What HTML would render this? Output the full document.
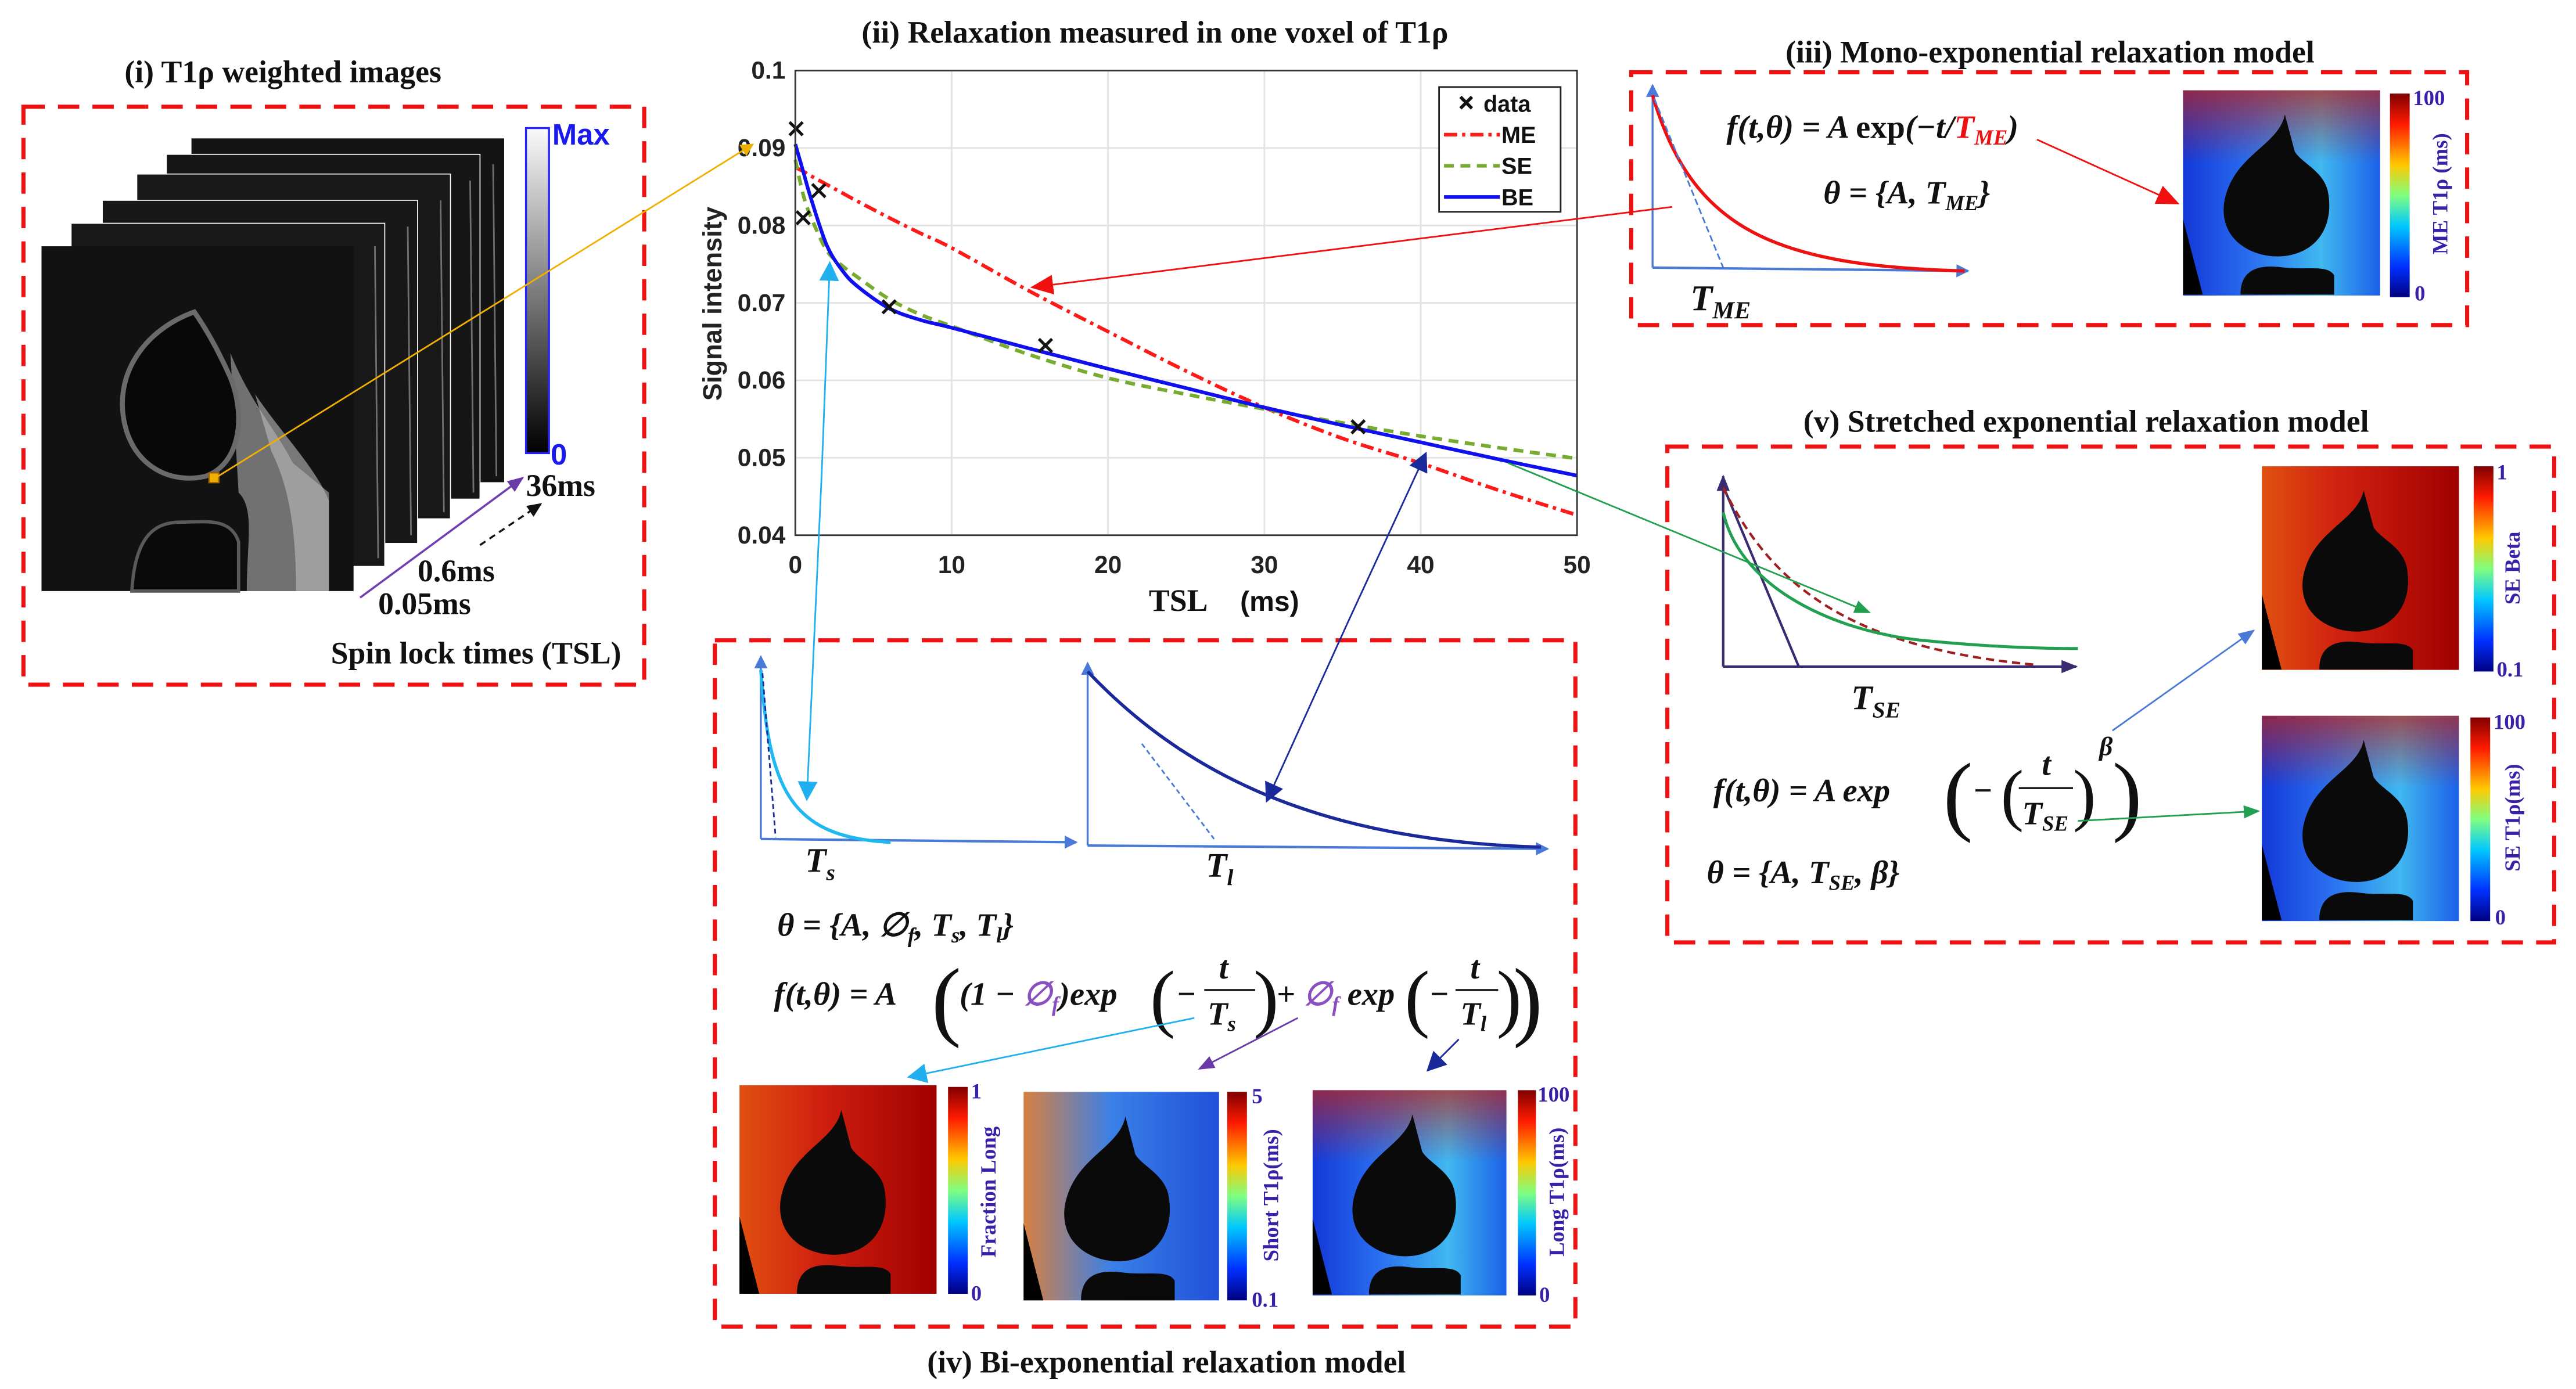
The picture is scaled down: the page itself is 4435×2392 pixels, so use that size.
<!DOCTYPE html>
<html><head><meta charset="utf-8"><style>
html,body{margin:0;padding:0;background:#fff;}
svg{display:block;}
.ttl{font-family:"Liberation Serif",serif;font-weight:bold;font-size:19px;fill:#111;}
.tk{font-family:"Liberation Sans",sans-serif;font-size:15px;font-weight:bold;fill:#222;}
.mth{font-family:"Liberation Serif",serif;font-weight:bold;font-style:italic;fill:#111;}
.cbl{font-family:"Liberation Serif",serif;font-weight:bold;font-size:13px;fill:#3a1fa8;}
</style></head><body>
<svg id="fig" width="4435" height="2392" viewBox="0 0 1568 846" xmlns="http://www.w3.org/2000/svg">
<defs>
<linearGradient id="jet" x1="0" y1="0" x2="0" y2="1">
<stop offset="0" stop-color="#800000"/><stop offset="0.15" stop-color="#ff1a00"/><stop offset="0.35" stop-color="#ffc800"/><stop offset="0.5" stop-color="#80ff80"/><stop offset="0.65" stop-color="#00c8ff"/><stop offset="0.85" stop-color="#0030ff"/><stop offset="1" stop-color="#000080"/></linearGradient>
<linearGradient id="gray" x1="0" y1="0" x2="0" y2="1"><stop offset="0" stop-color="#fafafa"/><stop offset="1" stop-color="#000"/></linearGradient>
<linearGradient id="bluemap" x1="0" y1="0" x2="1" y2="0"><stop offset="0" stop-color="#1438d8"/><stop offset="0.35" stop-color="#2a70f0"/><stop offset="0.7" stop-color="#40b8f0"/><stop offset="1" stop-color="#1c60e8"/></linearGradient>
<linearGradient id="redmap" x1="0" y1="0" x2="1" y2="0"><stop offset="0" stop-color="#e05010"/><stop offset="0.4" stop-color="#d02010"/><stop offset="1" stop-color="#a00000"/></linearGradient>
<linearGradient id="mixmap" x1="0" y1="0" x2="1" y2="0"><stop offset="0" stop-color="#d88040"/><stop offset="0.45" stop-color="#3a80e8"/><stop offset="1" stop-color="#2050d8"/></linearGradient>
<linearGradient id="topred" x1="0" y1="0" x2="0" y2="1"><stop offset="0" stop-color="#c02010" stop-opacity="0.7"/><stop offset="0.35" stop-color="#c02010" stop-opacity="0"/></linearGradient>
<g id="bones">
<path d="M62,15 C58,35 30,40 25,70 C22,95 45,105 62,103 C85,100 92,80 88,62 C85,50 72,45 68,38 Z" fill="#0a0a0a"/>
<path d="M35,127 C35,112 45,108 60,110 C75,112 88,108 92,115 L92,127 Z" fill="#0a0a0a"/>
<path d="M0,80 L12,127 L0,127 Z" fill="#000"/>
</g>
<marker id="mY" markerWidth="8" markerHeight="8" refX="7" refY="4" orient="auto" markerUnits="userSpaceOnUse"><path d="M0,0 L8,4 L0,8 Z" fill="#f0b000"/></marker>
<marker id="mR" markerWidth="14" markerHeight="12" refX="13" refY="6" orient="auto" markerUnits="userSpaceOnUse"><path d="M0,0 L14,6 L0,12 Z" fill="#f01010"/></marker>
<marker id="mC" markerWidth="12" markerHeight="12" refX="11" refY="6" orient="auto" markerUnits="userSpaceOnUse"><path d="M0,0 L12,6 L0,12 Z" fill="#20b0f0"/></marker>
<marker id="mN" markerWidth="12" markerHeight="12" refX="11" refY="6" orient="auto" markerUnits="userSpaceOnUse"><path d="M0,0 L12,6 L0,12 Z" fill="#1a2a9a"/></marker>
<marker id="mG" markerWidth="10" markerHeight="8" refX="9" refY="4" orient="auto" markerUnits="userSpaceOnUse"><path d="M0,0 L10,4 L0,8 Z" fill="#20a050"/></marker>
<marker id="mB" markerWidth="10" markerHeight="8" refX="9" refY="4" orient="auto" markerUnits="userSpaceOnUse"><path d="M0,0 L10,4 L0,8 Z" fill="#4a7ad8"/></marker>
<marker id="mP" markerWidth="10" markerHeight="8" refX="9" refY="4" orient="auto" markerUnits="userSpaceOnUse"><path d="M0,0 L10,4 L0,8 Z" fill="#6a3aa8"/></marker>
<marker id="mK" markerWidth="9" markerHeight="8" refX="8" refY="4" orient="auto" markerUnits="userSpaceOnUse"><path d="M0,0 L9,4 L0,8 Z" fill="#111"/></marker>
<marker id="mA" markerWidth="8" markerHeight="8" refX="7" refY="4" orient="auto" markerUnits="userSpaceOnUse"><path d="M0,0 L8,4 L0,8 Z" fill="#4a7ad8"/></marker>
<marker id="mV" markerWidth="10" markerHeight="8" refX="9" refY="4" orient="auto" markerUnits="userSpaceOnUse"><path d="M0,0 L10,4 L0,8 Z" fill="#3a2a70"/></marker>
</defs>

<!-- Panel i -->
<g>
<text class="ttl" x="172" y="50" text-anchor="middle">(i) T1ρ weighted images</text>
<rect x="14" y="65" width="378" height="352" fill="none" stroke="#ee1111" stroke-width="2.5" stroke-dasharray="13,8"/>
<g stroke="#fff" stroke-width="0.6">
<rect x="116" y="84" width="191" height="210" fill="#141414"/>
<rect x="101" y="94" width="191" height="210" fill="#161616"/>
<rect x="83" y="106" width="191" height="210" fill="#181818"/>
<rect x="62" y="122" width="192" height="209" fill="#171717"/>
<rect x="43" y="136" width="191" height="209" fill="#181818"/>
<g stroke="#aaa" stroke-width="1" opacity="0.6"><line x1="300" y1="100" x2="302" y2="290"/><line x1="286" y1="110" x2="288" y2="300"/><line x1="268" y1="122" x2="270" y2="312"/><line x1="248" y1="138" x2="250" y2="326"/><line x1="228" y1="150" x2="230" y2="340"/></g>
</g>
<g>
<rect x="25" y="150" width="190" height="210" fill="#121212"/>
<path d="M140,215 C152,245 168,262 178,282 L200,300 L200,360 L150,360 C150,330 155,310 145,300 Z" fill="#8a8a8a" opacity="0.8"/>
<path d="M155,240 C172,265 192,285 200,305 L200,360 L180,360 C180,320 175,295 165,275 Z" fill="#bdbdbd" opacity="0.6"/>
<path d="M118,190 C90,200 70,225 75,255 C80,285 105,295 125,290 C145,283 150,255 140,230 C132,212 125,200 118,190 Z" fill="#080808" stroke="#6a6a6a" stroke-width="3"/>
<path d="M80,360 C82,325 95,318 110,318 C125,318 140,315 145,330 L145,360 Z" fill="#0a0a0a" stroke="#5a5a5a" stroke-width="2"/>
<rect x="127" y="288" width="6" height="6" fill="#f0b000" stroke="#a06000" stroke-width="0.8"/>
</g>
<rect x="320" y="78" width="14" height="198" fill="url(#gray)" stroke="#2222ff" stroke-width="1.2"/>
<text x="336" y="88" font-family="Liberation Sans,sans-serif" font-weight="bold" font-size="18" fill="#1a1aee">Max</text>
<text x="335" y="283" font-family="Liberation Sans,sans-serif" font-weight="bold" font-size="18" fill="#1a1aee">0</text>
<text class="ttl" x="320" y="302" font-size="17">36ms</text>
<text class="ttl" x="254" y="354" font-size="17">0.6ms</text>
<text class="ttl" x="230" y="374" font-size="17">0.05ms</text>
<text class="ttl" x="378" y="404" font-size="17" text-anchor="end">Spin lock times (TSL)</text>
<line x1="219" y1="364" x2="318" y2="291" stroke="#7040b0" stroke-width="1.3" marker-end="url(#mP)"/>
<line x1="292" y1="332" x2="329" y2="307" stroke="#111" stroke-width="1.2" stroke-dasharray="4,3" marker-end="url(#mK)"/>
</g>

<!-- Panel ii chart -->
<g id="chart">
<text class="ttl" x="703" y="26" text-anchor="middle">(ii) Relaxation measured in one voxel of T1ρ</text>
<rect x="484" y="43" width="476" height="283" fill="#fff"/>
<g id="grid"></g>
<g id="ticks"></g>
<g id="series"></g>
<rect x="484" y="43" width="476" height="283" fill="none" stroke="#333" stroke-width="1"/>
<text x="439" y="185" transform="rotate(-90 439 185)" text-anchor="middle" font-family="Liberation Sans,sans-serif" font-weight="bold" font-size="16" fill="#222">Signal intensity</text>
<text x="745" y="372" text-anchor="middle" font-family="Liberation Serif,serif" font-weight="bold" font-size="19" fill="#111">TSL <tspan font-family="Liberation Sans,sans-serif" font-weight="bold" font-size="17" dx="16">(ms)</tspan></text>
<g>
<rect x="876" y="53" width="74" height="76" fill="#fff" stroke="#222" stroke-width="1"/>
<g id="legendItems"></g>
</g>
</g>

<!-- Panel iii -->
<g>
<text class="ttl" x="1248" y="38" text-anchor="middle">(iii) Mono-exponential relaxation model</text>
<rect x="993" y="44" width="509" height="154" fill="none" stroke="#ee1111" stroke-width="2.5" stroke-dasharray="13,8"/>
<line x1="1006" y1="163" x2="1006" y2="52" stroke="#4a7ad8" stroke-width="1.2" marker-end="url(#mA)"/>
<line x1="1006" y1="163" x2="1198" y2="165" stroke="#4a7ad8" stroke-width="1.5" marker-end="url(#mA)"/>
<path d="M1006,58 C1030,140 1080,162 1196,165" fill="none" stroke="#ee1111" stroke-width="2"/>
<line x1="1007" y1="60" x2="1049" y2="163" stroke="#4a7ad8" stroke-width="1" stroke-dasharray="4,2"/>
<text class="mth" x="1051" y="84" font-size="20">f(t,θ) = A <tspan font-style="normal">exp</tspan>(−t/<tspan fill="#ee1111">T<tspan font-size="13" dy="4">ME</tspan></tspan><tspan dy="-4">)</tspan></text>
<text class="mth" x="1110" y="124" font-size="20">θ = {A, T<tspan font-size="13" dy="4">ME</tspan><tspan dy="-4">}</tspan></text>
<text class="mth" x="1029" y="189" font-size="22" fill="#ee1111">T<tspan font-size="15" dy="5">ME</tspan></text>
<g>
<rect x="1329" y="55" width="120" height="125" fill="url(#bluemap)"/>
<rect x="1329" y="55" width="120" height="125" fill="url(#topred)"/>
<use href="#bones" transform="translate(1329,55) scale(1,0.98)"/>
</g>
<rect x="1455" y="57" width="12" height="124" fill="url(#jet)"/>
<text class="cbl" x="1469" y="64" font-size="14">100</text><text class="cbl" x="1470" y="183" font-size="14">0</text>
<text class="cbl" x="1490" y="118" transform="rotate(-90 1490 118)" text-anchor="middle">ME T1ρ (ms)</text>
</g>

<!-- Panel v -->
<g>
<text class="ttl" x="1270" y="263" text-anchor="middle">(v) Stretched exponential relaxation model</text>
<rect x="1015" y="272" width="540" height="302" fill="none" stroke="#ee1111" stroke-width="2.5" stroke-dasharray="13,8"/>
<line x1="1049" y1="406" x2="1049" y2="290" stroke="#3a2a70" stroke-width="1.5" marker-end="url(#mV)"/>
<line x1="1049" y1="406" x2="1264" y2="406" stroke="#3a2a70" stroke-width="1.5" marker-end="url(#mV)"/>
<line x1="1049" y1="296" x2="1095" y2="406" stroke="#3a2a70" stroke-width="1.5"/>
<path d="M1049,297 C1080,360 1130,395 1240,405" fill="none" stroke="#a02020" stroke-width="1.5" stroke-dasharray="5,3"/>
<path d="M1049,312 C1060,360 1120,385 1170,390 C1210,394 1240,395 1265,395" fill="none" stroke="#20a050" stroke-width="1.8"/>
<text class="mth" x="1127" y="432" font-size="21" fill="#20a050">T<tspan font-size="14" dy="5">SE</tspan></text>
<text class="mth" x="1043" y="488" font-size="20">f(t,θ) = A exp</text>
<text x="1183" y="502" font-family="Liberation Serif,serif" font-size="54" fill="#111">(</text>
<text class="mth" x="1201" y="488" font-size="20">−</text>
<text x="1218" y="498" font-family="Liberation Serif,serif" font-size="42" fill="#111">(</text>
<text class="mth" x="1243" y="472" font-size="20">t</text>
<line x1="1229" y1="480" x2="1262" y2="480" stroke="#111" stroke-width="1.2"/>
<text class="mth" x="1231" y="502" font-size="20" fill="#20a050">T<tspan font-size="13" dy="4">SE</tspan></text>
<text x="1262" y="498" font-family="Liberation Serif,serif" font-size="42" fill="#111">)</text>
<text class="mth" x="1278" y="460" font-size="16" fill="#1a3ae0">β</text>
<text x="1286" y="502" font-family="Liberation Serif,serif" font-size="54" fill="#111">)</text>
<text class="mth" x="1039" y="538" font-size="20">θ = {A, T<tspan font-size="13" dy="4">SE</tspan><tspan dy="-4">, β}</tspan></text>
<g>
<rect x="1377" y="284" width="120" height="124" fill="url(#redmap)"/>
<use href="#bones" transform="translate(1377,284) scale(1,0.975)"/>
</g>
<rect x="1506" y="284" width="12" height="125" fill="url(#jet)"/>
<text class="cbl" x="1520" y="292" font-size="14">1</text><text class="cbl" x="1520" y="412" font-size="14">0.1</text>
<text class="cbl" x="1534" y="346" transform="rotate(-90 1534 346)" text-anchor="middle">SE Beta</text>
<g>
<rect x="1377" y="436" width="120" height="125" fill="url(#bluemap)"/>
<rect x="1377" y="436" width="120" height="125" fill="url(#topred)"/>
<use href="#bones" transform="translate(1377,436) scale(1,0.98)"/>
</g>
<rect x="1504" y="437" width="12" height="124" fill="url(#jet)"/>
<text class="cbl" x="1518" y="444" font-size="14">100</text><text class="cbl" x="1519" y="563" font-size="14">0</text>
<text class="cbl" x="1534" y="498" transform="rotate(-90 1534 498)" text-anchor="middle">SE T1ρ(ms)</text>
</g>

<!-- Panel iv -->
<g>
<rect x="435" y="390" width="524" height="418" fill="none" stroke="#ee1111" stroke-width="2.5" stroke-dasharray="13,8"/>
<text class="ttl" x="710" y="836" text-anchor="middle">(iv) Bi-exponential relaxation model</text>
<line x1="463" y1="511" x2="463" y2="400" stroke="#4a7ad8" stroke-width="1.2" marker-end="url(#mA)"/>
<line x1="463" y1="511" x2="655" y2="513" stroke="#4a7ad8" stroke-width="1.5" marker-end="url(#mA)"/>
<path d="M463,408 C468,480 480,510 542,513" fill="none" stroke="#20b8f0" stroke-width="2"/>
<line x1="464" y1="410" x2="472" y2="510" stroke="#1a2a9a" stroke-width="1" stroke-dasharray="3,2"/>
<text class="mth" x="490" y="531" font-size="21" fill="#20b0f0">T<tspan font-size="14" dy="5">s</tspan></text>
<line x1="662" y1="515" x2="662" y2="404" stroke="#4a7ad8" stroke-width="1.2" marker-end="url(#mA)"/>
<line x1="662" y1="515" x2="942" y2="517" stroke="#4a7ad8" stroke-width="1.5" marker-end="url(#mA)"/>
<path d="M662,409 C720,470 800,512 938,516" fill="none" stroke="#1a2a9a" stroke-width="2"/>
<line x1="695" y1="453" x2="739" y2="511" stroke="#4a7ad8" stroke-width="1" stroke-dasharray="3,2"/>
<text class="mth" x="734" y="534" font-size="21" fill="#1a2a9a">T<tspan font-size="14" dy="5">l</tspan></text>
<text class="mth" x="473" y="570" font-size="20">θ = {A, ∅<tspan font-size="13" dy="4">f</tspan><tspan dy="-4">, T</tspan><tspan font-size="13" dy="4">s</tspan><tspan dy="-4">, T</tspan><tspan font-size="13" dy="4">l</tspan><tspan dy="-4">}</tspan></text>
<text class="mth" x="471" y="612" font-size="20">f(t,θ) = A</text>
<text x="567" y="627" font-family="Liberation Serif,serif" font-size="54" fill="#111">(</text>
<text class="mth" x="584" y="612" font-size="20">(1 − <tspan fill="#8a50c0">∅<tspan font-size="13" dy="4">f</tspan></tspan><tspan dy="-4">)exp</tspan></text>
<text x="700" y="623" font-family="Liberation Serif,serif" font-size="46" fill="#111">(</text>
<text class="mth" x="716" y="612" font-size="20">−</text>
<text class="mth" x="742" y="596" font-size="20">t</text>
<line x1="733" y1="603" x2="764" y2="603" stroke="#111" stroke-width="1.2"/>
<text class="mth" x="735" y="624" font-size="20" fill="#20b0f0">T<tspan font-size="13" dy="4">s</tspan></text>
<text x="763" y="623" font-family="Liberation Serif,serif" font-size="46" fill="#111">)</text>
<text class="mth" x="777" y="612" font-size="20">+ <tspan fill="#8a50c0">∅<tspan font-size="13" dy="4">f</tspan></tspan><tspan dy="-4"> exp</tspan></text>
<text x="855" y="623" font-family="Liberation Serif,serif" font-size="46" fill="#111">(</text>
<text class="mth" x="870" y="612" font-size="20">−</text>
<text class="mth" x="895" y="596" font-size="20">t</text>
<line x1="886" y1="603" x2="912" y2="603" stroke="#111" stroke-width="1.2"/>
<text class="mth" x="889" y="624" font-size="20" fill="#1a2a9a">T<tspan font-size="13" dy="4">l</tspan></text>
<text x="911" y="623" font-family="Liberation Serif,serif" font-size="46" fill="#111">)</text>
<text x="921" y="627" font-family="Liberation Serif,serif" font-size="54" fill="#111">)</text>
<g>
<rect x="450" y="661" width="120" height="127" fill="url(#redmap)"/>
<use href="#bones" transform="translate(450,661)"/>
</g>
<rect x="577" y="662" width="12" height="126" fill="url(#jet)"/>
<text class="cbl" x="591" y="669" font-size="14">1</text><text class="cbl" x="591" y="792" font-size="14">0</text>
<text class="cbl" x="606" y="726" transform="rotate(-90 606 726)" text-anchor="middle">Fraction Long</text>
<g>
<rect x="623" y="665" width="119" height="127" fill="url(#mixmap)"/>
<use href="#bones" transform="translate(623,665)"/>
</g>
<rect x="747" y="665" width="12" height="127" fill="url(#jet)"/>
<text class="cbl" x="762" y="672" font-size="14">5</text><text class="cbl" x="762" y="796" font-size="14">0.1</text>
<text class="cbl" x="778" y="728" transform="rotate(-90 778 728)" text-anchor="middle">Short T1ρ(ms)</text>
<g>
<rect x="799" y="664" width="118" height="125" fill="url(#bluemap)"/>
<rect x="799" y="664" width="118" height="125" fill="url(#topred)"/>
<use href="#bones" transform="translate(799,664) scale(0.98,0.98)"/>
</g>
<rect x="924" y="664" width="11" height="125" fill="url(#jet)"/>
<text class="cbl" x="936" y="671" font-size="14">100</text><text class="cbl" x="937" y="793" font-size="14">0</text>
<text class="cbl" x="952" y="726" transform="rotate(-90 952 726)" text-anchor="middle">Long T1ρ(ms)</text>
</g>

<!-- connecting arrows -->
<g fill="none">
<line x1="131" y1="291" x2="458" y2="88" stroke="#f0b000" stroke-width="1" marker-end="url(#mY)"/>
<line x1="1018" y1="126" x2="628" y2="175" stroke="#f01010" stroke-width="1" marker-end="url(#mR)"/>
<line x1="1240" y1="85" x2="1326" y2="124" stroke="#f01010" stroke-width="1" marker-end="url(#mR)"/>
<line x1="500" y1="290" x2="505" y2="160" stroke="#20b0f0" stroke-width="1" marker-end="url(#mC)"/>
<line x1="500" y1="290" x2="491" y2="487" stroke="#20b0f0" stroke-width="1" marker-end="url(#mC)"/>
<line x1="820" y1="380" x2="868" y2="276" stroke="#1a2a9a" stroke-width="1" marker-end="url(#mN)"/>
<line x1="820" y1="380" x2="771" y2="488" stroke="#1a2a9a" stroke-width="1" marker-end="url(#mN)"/>
<line x1="918" y1="282" x2="1138" y2="373" stroke="#20a050" stroke-width="1" marker-end="url(#mG)"/>
<line x1="1286" y1="445" x2="1372" y2="384" stroke="#4a7ad8" stroke-width="1" marker-end="url(#mB)"/>
<line x1="1265" y1="500" x2="1375" y2="494" stroke="#20a050" stroke-width="1" marker-end="url(#mG)"/>
<line x1="727" y1="620" x2="553" y2="656" stroke="#20b0f0" stroke-width="1" marker-end="url(#mC)"/>
<line x1="790" y1="620" x2="730" y2="651" stroke="#6a3aa8" stroke-width="1" marker-end="url(#mP)"/>
<line x1="888" y1="633" x2="869" y2="652" stroke="#1a2a9a" stroke-width="1" marker-end="url(#mN)"/>
</g>
</svg>
<script>
const tsl = [0.05, 0.5, 1.5, 6, 16, 36];
const dataVals = [0.0925, 0.081, 0.0845, 0.0695, 0.0645, 0.054];
const curveT = [0, 0.5, 1, 2, 3, 4, 6, 8, 10, 15, 20, 25, 30, 35, 40, 45, 50];
const meVals = [0.0875, 0.087, 0.0864, 0.0853, 0.0842, 0.0831, 0.081, 0.079, 0.0771, 0.0715, 0.0663, 0.0612, 0.0565, 0.0525, 0.0493, 0.0458, 0.0426];
const seVals = [0.0885, 0.084, 0.0811, 0.0768, 0.0748, 0.0733, 0.0705, 0.0685, 0.067, 0.0633, 0.0603, 0.0582, 0.0563, 0.0545, 0.0528, 0.0513, 0.0499];
const beVals = [0.0905, 0.087, 0.0835, 0.0775, 0.0742, 0.0721, 0.0693, 0.0678, 0.0668, 0.0641, 0.0615, 0.059, 0.0565, 0.0542, 0.052, 0.0498, 0.0477];
const xTicks = [0, 10, 20, 30, 40, 50];
const yTicks = [0.04, 0.05, 0.06, 0.07, 0.08, 0.09, 0.1];
const yTickLabels = ["0.04", "0.05", "0.06", "0.07", "0.08", "0.09", "0.1"];
const legendNames = ["data", "ME", "SE", "BE"];

const NS = "http://www.w3.org/2000/svg";
const PL = 484, PR = 960, PT = 43, PB = 326;
const X0 = 0, X1 = 50, Y0 = 0.04, Y1 = 0.1;
function xs(t) { return PL + (t - X0) / (X1 - X0) * (PR - PL); }
function ys(v) { return PB - (v - Y0) / (Y1 - Y0) * (PB - PT); }
function mk(tag, attrs, parent) {
  const e = document.createElementNS(NS, tag);
  for (const k in attrs) e.setAttribute(k, attrs[k]);
  parent.appendChild(e);
  return e;
}
const grid = document.getElementById("grid");
const ticks = document.getElementById("ticks");
const series = document.getElementById("series");
xTicks.forEach(function (t) {
  const g = mk("line", { x1: xs(t), x2: xs(t), y1: PT, y2: PB, stroke: "#e3e3e3", "stroke-width": 1 }, grid);
  
  
  const l = mk("text", { x: xs(t), y: 349, "text-anchor": "middle", class: "tk" }, ticks);
  l.textContent = String(t);
  
  
});
yTicks.forEach(function (v, i) {
  const g = mk("line", { x1: PL, x2: PR, y1: ys(v), y2: ys(v), stroke: "#e3e3e3", "stroke-width": 1 }, grid);
  
  
  const l = mk("text", { x: 478, y: ys(v) + 5, "text-anchor": "end", class: "tk" }, ticks);
  l.textContent = yTickLabels[i];
  
  
});
function smoothPath(ts, vs) {
  const p = ts.map(function (t, i) { return [xs(t), ys(vs[i])]; });
  let d = "M" + p[0][0] + "," + p[0][1];
  for (let i = 0; i < p.length - 1; i++) {
    const a = p[Math.max(i - 1, 0)], b = p[i], c = p[i + 1], e = p[Math.min(i + 2, p.length - 1)];
    const c1 = [b[0] + (c[0] - a[0]) / 6, b[1] + (c[1] - a[1]) / 6];
    const c2 = [c[0] - (e[0] - b[0]) / 6, c[1] - (e[1] - b[1]) / 6];
    d += " C" + c1[0] + "," + c1[1] + " " + c2[0] + "," + c2[1] + " " + c[0] + "," + c[1];
  }
  return d;
}
const me = mk("path", { d: smoothPath(curveT, meVals), fill: "none", stroke: "#ff1a1a", "stroke-width": 2.2, "stroke-dasharray": "8,3,2,3" }, series);


const se = mk("path", { d: smoothPath(curveT, seVals), fill: "none", stroke: "#77ac30", "stroke-width": 2.2, "stroke-dasharray": "6,4" }, series);


const be = mk("path", { d: smoothPath(curveT, beVals), fill: "none", stroke: "#1010ee", "stroke-width": 2.2 }, series);


tsl.forEach(function (t, i) {
  const x = xs(t), y = ys(dataVals[i]);
  const m = mk("path", { d: "M" + (x - 4) + "," + (y - 4) + " L" + (x + 4) + "," + (y + 4) + " M" + (x - 4) + "," + (y + 4) + " L" + (x + 4) + "," + (y - 4), stroke: "#111", "stroke-width": 1.8 }, series);
  
  
});
const lg = document.getElementById("legendItems");
const legendStyles = [null, { stroke: "#ff1a1a", dash: "8,3,2,3" }, { stroke: "#77ac30", dash: "6,4" }, { stroke: "#1010ee", dash: "" }];
legendNames.forEach(function (n, i) {
  const y = 68 + i * 19;
  if (i === 0) {
    const m = mk("path", { d: "M889,59 L896,66 M889,66 L896,59", stroke: "#111", "stroke-width": 2 }, lg);
    
    
  } else {
    const s = legendStyles[i];
    const a = { x1: 879, x2: 913, y1: y - 5, y2: y - 5, stroke: s.stroke, "stroke-width": 2.2 };
    if (s.dash) a["stroke-dasharray"] = s.dash;
    const m = mk("line", a, lg);
    
    
  }
  const t = mk("text", { x: i === 0 ? 903 : 914, y: i === 0 ? 68 : y, "font-family": "Liberation Sans,sans-serif", "font-weight": "bold", "font-size": "14", fill: "#111" }, lg);
  t.textContent = n;
  
  
});
</script>
</body></html>
